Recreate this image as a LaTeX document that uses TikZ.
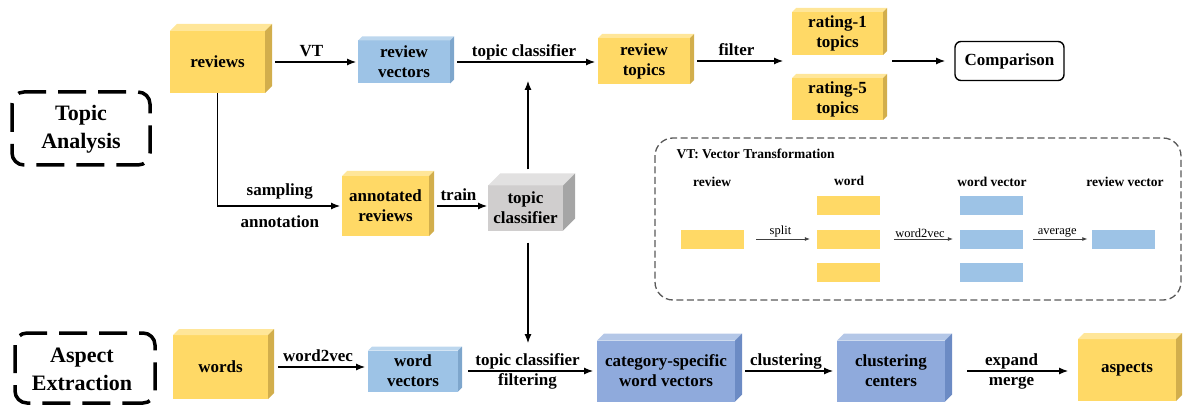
\documentclass[tikz,border=0pt]{standalone}
\usepackage{fontspec}
\setmainfont{Liberation Serif}
\usepackage{tikz}
\usetikzlibrary{arrows.meta,positioning,calc}

\definecolor{ylwF}{HTML}{FFD966}
\definecolor{ylwT}{HTML}{FFE699}
\definecolor{ylwS}{HTML}{D2AE4C}
\definecolor{bluF}{HTML}{9DC3E6}
\definecolor{bluT}{HTML}{BDD7EE}
\definecolor{bluS}{HTML}{7EA6CC}
\definecolor{prpF}{HTML}{8FAADC}
\definecolor{prpT}{HTML}{B4C7E7}
\definecolor{prpS}{HTML}{6C8BC4}
\definecolor{gryF}{HTML}{D0CECE}
\definecolor{gryT}{HTML}{E2E1E1}
\definecolor{gryS}{HTML}{A5A5A5}

\tikzset{
  box/.style={inner sep=2pt, outer sep=0pt, align=center,
    font=\fontsize{17}{20}\selectfont\bfseries},
  ylw/.style={box, fill=ylwF},
  blu/.style={box, fill=bluF},
  prp/.style={box, fill=prpF},
  gry/.style={box, fill=gryF},
  flow/.style={-{Latex[length=9pt,width=7pt]}, line width=1.1pt},
  lab/.style={font=\fontsize{17}{20}\selectfont\bfseries, inner sep=2pt},
  stage/.style={line width=3.5pt, dash pattern=on 28pt off 12pt,
    rounded corners=12pt},
  vtframe/.style={draw=black!65, line width=1.3pt,
    dash pattern=on 7pt off 3.5pt, rounded corners=18pt},
  bar/.style={minimum width=63pt, minimum height=19pt, inner sep=0pt},
  thinarr/.style={-{Latex[length=5pt,width=4pt]}, line width=0.7pt, draw=black!75},
  small/.style={font=\fontsize{12.5}{14}\selectfont, inner sep=1pt},
  head/.style={font=\fontsize{13.5}{16}\selectfont\bfseries}
}

% top and right faces of a block
\newcommand\cubeside[4]{%
  \fill[#3] (#1.north west) -- ++(#2,-#2) -- ([shift={(#2,-#2)}]#1.north east)
    -- (#1.north east) -- cycle;
  \fill[#4] (#1.north east) -- ([shift={(#2,-#2)}]#1.north east)
    -- ([shift={(#2,-#2)}]#1.south east) -- (#1.south east) -- cycle;
}

\begin{document}
\begin{tikzpicture}[x=1pt, y=-1pt]
  \useasboundingbox (0,0) rectangle (1183,406);

  % Stage labels
  \draw[stage] (12,92) rectangle (150,165);
  \node[align=center, font=\fontsize{22}{28}\selectfont\bfseries] (ta) at (81,129) {Topic\\Analysis};
  \draw[stage] (15,333) rectangle (155,403);
  \node[align=center, font=\fontsize{22}{28}\selectfont\bfseries] (ae) at (82,369) {Aspect\\Extraction};

  % Topic analysis row
  \node[ylw, minimum width=95, minimum height=62] (reviews) at (217.5,62) {reviews};
  \cubeside{reviews}{7}{ylwT}{ylwS}
  \node[blu, minimum width=92, minimum height=43] (vectors) at (404,62) {review\\vectors};
  \cubeside{vectors}{4}{bluT}{bluS}
  \node[ylw, minimum width=92, minimum height=46] (topics) at (644,61) {review\\topics};
  \cubeside{topics}{4}{ylwT}{ylwS}
  \node[ylw, minimum width=91, minimum height=43] (rate1) at (837.5,33.5) {rating-1\\topics};
  \cubeside{rate1}{4}{ylwT}{ylwS}
  \node[ylw, minimum width=91, minimum height=42] (rate5) at (837.5,99) {rating-5\\topics};
  \cubeside{rate5}{4}{ylwT}{ylwS}
  \node[box, draw, line width=1.4pt, rounded corners=6pt,
    minimum width=109, minimum height=39] (comp) at (1009.5,61) {Comparison};
  \coordinate (fork) at (783,61);
  \coordinate (join) at (892,61);

  \node[ylw, minimum width=87, minimum height=60] (annot) at (385.5,206) {annotated\\reviews};
  \cubeside{annot}{5}{ylwT}{ylwS}
  \node[gry, minimum width=75, minimum height=45] (tc) at (525.5,208) {topic\\classifier};
  \cubeside{tc}{12}{gryT}{gryS}
  \coordinate (up) at (528,81);
  \coordinate (dn) at (528,343);

  % Aspect extraction row
  \node[ylw, minimum width=95, minimum height=64] (words) at (220.5,367) {words};
  \cubeside{words}{6}{ylwT}{ylwS}
  \node[blu, minimum width=90, minimum height=41] (wvec) at (413,371) {word\\vectors};
  \cubeside{wvec}{4}{bluT}{bluS}
  \node[prp, minimum width=138, minimum height=61] (cat) at (666,371) {category-specific\\word vectors};
  \cubeside{cat}{7}{prpT}{prpS}
  \node[prp, minimum width=108, minimum height=61] (clus) at (891,371) {clustering\\centers};
  \cubeside{clus}{7}{prpT}{prpS}
  \node[ylw, minimum width=98, minimum height=62] (aspects) at (1127,370) {aspects};
  \cubeside{aspects}{6}{ylwT}{ylwS}

  % Connectors
  \draw[flow, shorten <=10pt, shorten >=2pt] (reviews.east)
    -- node[lab, above=3pt, text depth=0pt] {VT} (reviews.east -| vectors.west);
  \draw[flow, shorten <=7pt, shorten >=3pt] (vectors.east)
    -- node[lab, above=3pt, text depth=0pt] {topic classifier} (vectors.east -| topics.west);
  \draw[flow, shorten <=7pt] (topics.east)
    -- node[lab, above=3pt, text depth=0pt] {filter} (fork);
  \draw[flow, shorten >=10pt] (join) -- (comp.west);
  \draw[flow, shorten >=2pt] (reviews.south) |- (annot.west)
    node[lab, pos=0.75, above=8pt, text depth=0pt] {sampling}
    node[lab, pos=0.75, below=7pt, text height=12pt] {annotation};
  \draw[flow, shorten <=8pt, shorten >=1pt] (annot.east)
    -- node[lab, above=3pt, text depth=0pt] {train} (annot.east -| tc.west);
  \draw[flow] (tc.north -| up) ++(0,-16) -- (up);
  \draw[flow] (tc.south -| dn) ++(0,12) -- (dn);

  \draw[flow, shorten <=10pt, shorten >=3pt] (words.east)
    -- node[lab, above=3pt, text depth=0pt] {word2vec} (words.east -| wvec.west);
  \draw[flow, shorten <=10pt, shorten >=4pt] (wvec.east)
    -- node[lab, above=3pt, text depth=0pt] {topic classifier}
       node[lab, below=0pt, text height=12pt] {filtering} (wvec.east -| cat.west);
  \draw[flow, shorten <=10pt, shorten >=4pt] (cat.east)
    -- node[lab, above=3pt, text depth=0pt] {clustering} (cat.east -| clus.west);
  \draw[flow, shorten <=22pt, shorten >=10pt] (clus.east)
    -- node[lab, above=3pt, text depth=0pt] {expand}
       node[lab, below=0pt, text height=12pt] {merge} (clus.east -| aspects.west);

  % VT: Vector Transformation
  \draw[vtframe] (655,138) rectangle (1181,300);
  \node[head, anchor=west] (vtt) at (673,154) {VT: Vector Transformation};
  \node[head] (h1) at (712,182) {review};
  \node[head] (h2) at (849,181) {word};
  \node[head] (h3) at (992,182) {word vector};
  \node[head] (h4) at (1125,182) {review vector};
  \node[bar, fill=ylwF] (r1) at (712.5,239) {};
  \node[bar, fill=ylwF] (w1) at (848.5,206) {};
  \node[bar, fill=ylwF] (w2) at (848.5,239) {};
  \node[bar, fill=ylwF] (w3) at (848.5,272) {};
  \node[bar, fill=bluF] (v1) at (991.5,206) {};
  \node[bar, fill=bluF] (v2) at (991.5,239) {};
  \node[bar, fill=bluF] (v3) at (991.5,272) {};
  \node[bar, fill=bluF] (rv) at (1123,239) {};
  \draw[thinarr, shorten <=12pt, shorten >=7pt] (r1.east)
    -- node[small, above] {split} (w2.west);
  \draw[thinarr, shorten <=14pt, shorten >=7pt] (w2.east)
    -- node[small, above] {word2vec} (v2.west);
  \draw[thinarr, shorten <=10pt, shorten >=4pt] (v2.east)
    -- node[small, above] {average} (rv.west);
\end{tikzpicture}
\end{document}
